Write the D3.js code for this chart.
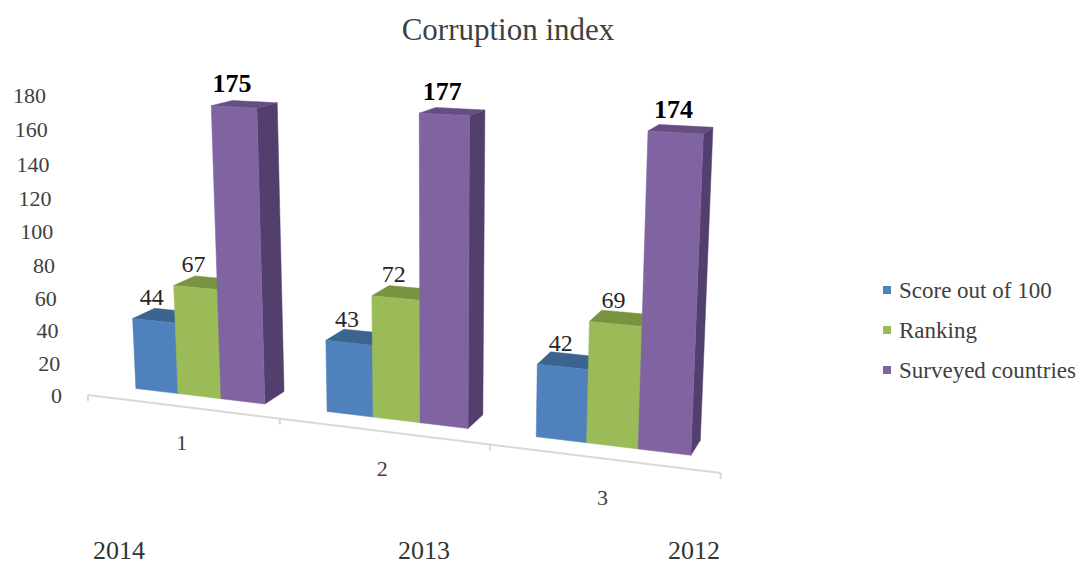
<!DOCTYPE html>
<html>
<head>
<meta charset="utf-8">
<script src="https://cdn.jsdelivr.net/npm/d3@7"></script>
<style>
  html, body { margin: 0; padding: 0; background: #ffffff; }
  svg { display: block; }
  text { font-family: "Liberation Serif", "Times New Roman", serif; }
</style>
</head>
<body>
<svg id="chart" width="1086" height="567"></svg>
<script>
// ---------------- data ----------------
const categories = ["1", "2", "3"];
const years = ["2014", "2013", "2012"];
const seriesNames = ["Score out of 100", "Ranking", "Surveyed countries"];
const scoreOutOf100 = [44, 43, 42];
const ranking = [67, 72, 69];
const surveyedCountries = [175, 177, 174];
const yTicks = [0, 20, 40, 60, 80, 100, 120, 140, 160, 180];
const chartTitle = "Corruption index";

// ---------------- styles / layout ----------------
const W = 1086, H = 567;
const frontColors = ["#4F81BD", "#9BBB59", "#8064A2"];
const topColors   = ["#3C6491", "#789440", "#654F82"];
const sideColors  = ["#385D8A", "#71893F", "#533F6E"];
const textGray = "#404040";
const yearLabelX = [119, 424, 694];

const svg = d3.select("#chart");
svg.append("rect").attr("width", W).attr("height", H).attr("fill", "#fff");

// world scales
const xCat = d3.scaleBand().domain(categories).range([0, 1]).padding(0);
const xSer = d3.scaleBand().domain(seriesNames).range([0, xCat.bandwidth()])
  .paddingInner(0).paddingOuter(0.693);
const yScale = d3.scaleLinear().domain([0, 180]).range([0, 180 * 1.69]);
const zFront = 0.82, zBack = 1.82;

// perspective projection (world X along category axis, Y height, Z depth)
const P = { ox: 88, oy: 395, ax: 539, bx: 16.5, cx: -0.13,
            ay: -0.107 / 1.69, cy: -0.000244 / 1.69,
            az: 26, bz: -2.5, cz: 0.025 };
function proj(X, Y, Z) {
  const w = 1 + P.cx * X + P.cy * Y + P.cz * Z;
  return [(P.ox + P.ax * X + P.ay * Y + P.az * Z) / w,
          (P.oy + P.bx * X - Y + P.bz * Z) / w];
}
function wOf(X, Y, Z) { return 1 + P.cx * X + P.cy * Y + P.cz * Z; }
const line = d3.line();
const poly = pts => line(pts.map(p => proj(p[0], p[1], p[2]))) + "Z";

// title
svg.append("text").attr("x", 508).attr("y", 40).attr("text-anchor", "middle")
  .attr("font-size", 31).attr("fill", textGray).text(chartTitle);

// y axis labels
svg.append("g").selectAll("text").data(yTicks).join("text")
  .attr("x", d => proj(0, yScale(d), 0)[0] - 26)
  .attr("y", d => proj(0, yScale(d), 0)[1])
  .attr("dy", "0.35em").attr("text-anchor", "end")
  .attr("font-size", 22).attr("fill", textGray).text(d => d);

// floor (category) axis line + ticks
const axisG = svg.append("g");
axisG.append("path")
  .attr("d", line([proj(0, 0, 0), proj(1, 0, 0)]))
  .attr("stroke", "#D9D9D9").attr("stroke-width", 2).attr("fill", "none");
const tickXs = categories.map(c => xCat(c)).concat([1]);
axisG.selectAll("path.tick").data(tickXs).join("path").attr("class", "tick")
  .attr("d", x => { const p = proj(x, 0, 0); return line([p, [p[0], p[1] + 6]]); })
  .attr("stroke", "#D9D9D9").attr("stroke-width", 2);
axisG.selectAll("text").data(categories).join("text")
  .attr("x", c => proj(xCat(c) + xCat.bandwidth() / 2, 0, 0)[0])
  .attr("y", c => { const X = xCat(c) + xCat.bandwidth() / 2; return proj(X, 0, 0)[1] + 35 / wOf(X, 0, 0); })
  .attr("dy", "0.35em").attr("text-anchor", "middle")
  .attr("font-size", 22).attr("fill", textGray).text(c => c);

// bars
const seriesValues = [scoreOutOf100, ranking, surveyedCountries];
const bars = [];
categories.forEach((c, ci) => {
  seriesNames.forEach((s, si) => {
    const X0 = xCat(c) + xSer(s), X1 = X0 + xSer.bandwidth();
    bars.push({ c, s, si, v: seriesValues[si][ci], X0, X1 });
  });
});
const barG = svg.append("g");
bars.forEach(b => {
  const h = yScale(b.v);
  const g = barG.append("g");
  g.append("path").attr("d", poly([[b.X1, 0, zFront], [b.X1, 0, zBack], [b.X1, h, zBack], [b.X1, h, zFront]]))
    .attr("fill", sideColors[b.si]).attr("stroke", sideColors[b.si]).attr("stroke-width", 0.5);
  g.append("path").attr("d", poly([[b.X0, h, zFront], [b.X1, h, zFront], [b.X1, h, zBack], [b.X0, h, zBack]]))
    .attr("fill", topColors[b.si]).attr("stroke", topColors[b.si]).attr("stroke-width", 0.5);
  g.append("path").attr("d", poly([[b.X0, 0, zFront], [b.X1, 0, zFront], [b.X1, h, zFront], [b.X0, h, zFront]]))
    .attr("fill", frontColors[b.si]).attr("stroke", frontColors[b.si]).attr("stroke-width", 0.5);
});

// value labels
svg.append("g").selectAll("text").data(bars).join("text")
  .attr("x", b => proj((b.X0 + b.X1) / 2, yScale(b.v), zFront)[0] - 2)
  .attr("y", b => proj((b.X0 + b.X1) / 2, yScale(b.v), zFront)[1] - 24)
  .attr("dy", "0.35em").attr("text-anchor", "middle")
  .attr("font-size", b => b.si === 2 ? 26 : 24)
  .attr("font-weight", b => b.si === 2 ? "bold" : "normal")
  .attr("fill", b => b.si === 2 ? "#000" : "#262626")
  .text(b => b.v);

// legend
const legend = svg.append("g").attr("transform", "translate(883,290)");
const li = legend.selectAll("g").data(seriesNames).join("g")
  .attr("transform", (d, i) => `translate(0,${i * 40})`);
li.append("rect").attr("x", 0).attr("y", -4).attr("width", 8).attr("height", 8)
  .attr("fill", (d, i) => frontColors[i]);
li.append("text").attr("x", 16).attr("y", 0).attr("dy", "0.35em")
  .attr("font-size", 23).attr("fill", textGray).text(d => d);

// year labels
svg.append("g").selectAll("text").data(years).join("text")
  .attr("x", (d, i) => yearLabelX[i]).attr("y", 559)
  .attr("text-anchor", "middle").attr("font-size", 26).attr("fill", "#333")
  .text(d => d);
</script>
</body>
</html>
